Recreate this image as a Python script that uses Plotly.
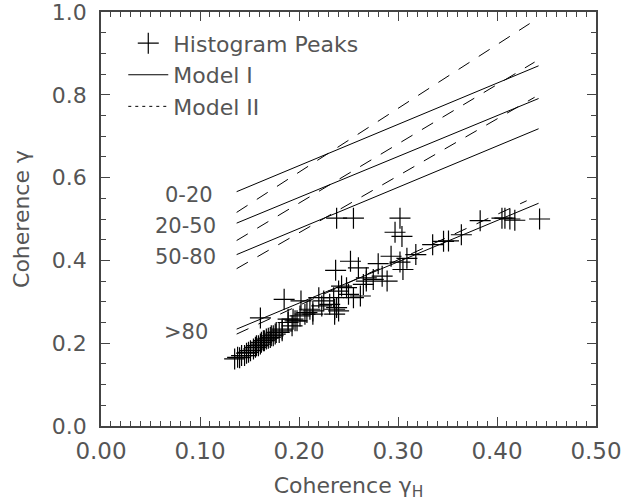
import plotly.graph_objects as go

# Histogram peaks (gamma_H, gamma)
peak_x = [0.135, 0.138, 0.140, 0.142, 0.145, 0.147, 0.149, 0.151, 0.154, 0.156,
          0.157, 0.159, 0.161, 0.162, 0.164, 0.165, 0.167, 0.169, 0.171, 0.172,
          0.174, 0.176, 0.177, 0.180, 0.183, 0.183, 0.161, 0.189, 0.189, 0.193,
          0.194, 0.196, 0.198, 0.201, 0.206, 0.208, 0.211, 0.214, 0.214, 0.220,
          0.223, 0.225, 0.231, 0.236, 0.236, 0.238, 0.240, 0.185, 0.202, 0.235,
          0.240, 0.243, 0.248, 0.250, 0.255, 0.262, 0.265, 0.268, 0.268, 0.275,
          0.280, 0.284, 0.289, 0.237, 0.252, 0.260, 0.293, 0.302, 0.305, 0.309,
          0.318, 0.335, 0.346, 0.351, 0.364, 0.383, 0.405, 0.408, 0.413, 0.418,
          0.443, 0.238, 0.255, 0.302, 0.297, 0.304]
peak_y = [0.162, 0.166, 0.165, 0.170, 0.170, 0.176, 0.178, 0.182, 0.186, 0.190,
          0.194, 0.194, 0.198, 0.202, 0.206, 0.206, 0.210, 0.212, 0.214, 0.218,
          0.218, 0.222, 0.226, 0.226, 0.230, 0.234, 0.261, 0.250, 0.258, 0.242,
          0.258, 0.254, 0.254, 0.266, 0.270, 0.274, 0.282, 0.270, 0.278, 0.310,
          0.290, 0.302, 0.294, 0.270, 0.282, 0.286, 0.278, 0.306, 0.302, 0.310,
          0.326, 0.338, 0.334, 0.318, 0.310, 0.314, 0.342, 0.358, 0.350, 0.354,
          0.392, 0.362, 0.350, 0.376, 0.398, 0.382, 0.410, 0.396, 0.378, 0.405,
          0.414, 0.438, 0.446, 0.447, 0.462, 0.496, 0.502, 0.502, 0.500, 0.497,
          0.500, 0.502, 0.502, 0.502, 0.468, 0.458]

groups = ["0-20", "20-50", "50-80", ">80"]
# Model I (solid) line endpoints
m1_x0 = [0.137, 0.137, 0.137, 0.137]
m1_x1 = [0.442, 0.442, 0.442, 0.442]
m1_y0 = [0.566, 0.490, 0.414, 0.234]
m1_y1 = [0.870, 0.791, 0.718, 0.538]
# Model II (dashed) line endpoints
m2_x0 = [0.137, 0.137, 0.137, 0.137]
m2_x1 = [0.433, 0.438, 0.438, 0.430]
m2_y0 = [0.516, 0.448, 0.380, 0.222]
m2_y1 = [0.972, 0.879, 0.794, 0.544]
# group label anchor (right edge x, centre y)
lab_x = [0.115, 0.118, 0.118, 0.110]
lab_y = [0.559, 0.482, 0.408, 0.226]

x_ticks = [0.0, 0.1, 0.2, 0.3, 0.4, 0.5]
x_tick_labels = ["0.00", "0.10", "0.20", "0.30", "0.40", "0.50"]
y_ticks = [0.0, 0.2, 0.4, 0.6, 0.8, 1.0]
y_tick_labels = ["0.0", "0.2", "0.4", "0.6", "0.8", "1.0"]

FONT = "DejaVu Sans, sans-serif"
TXT = "#555555"

fig = go.Figure()

fig.add_trace(go.Scatter(
    x=peak_x, y=peak_y, mode="markers", name="Histogram Peaks",
    marker=dict(symbol="cross-thin", size=15, line=dict(color="black", width=1.2)),
    showlegend=True))

for i in range(4):
    fig.add_trace(go.Scatter(
        x=[m1_x0[i], m1_x1[i]], y=[m1_y0[i], m1_y1[i]], mode="lines",
        line=dict(color="black", width=1), name="Model I", showlegend=(i == 0)))
for i in range(4):
    fig.add_trace(go.Scatter(
        x=[m2_x0[i], m2_x1[i]], y=[m2_y0[i], m2_y1[i]], mode="lines",
        line=dict(color="black", width=1, dash="13px,11px"), showlegend=False))
# legend-only sample for Model II
fig.add_trace(go.Scatter(
    x=[None], y=[None], mode="lines", name="Model II",
    line=dict(color="black", width=1, dash="3px,4px")))

for i, g in enumerate(groups):
    fig.add_annotation(x=lab_x[i], y=lab_y[i], text=g, showarrow=False,
                       xanchor="right", yanchor="middle",
                       font=dict(family=FONT, size=21, color=TXT))

axis_common = dict(
    showline=True, linecolor="#444444", linewidth=1.5, mirror="ticks",
    ticks="inside", ticklen=9, tickcolor="#444444", tickwidth=1,
    showgrid=False, zeroline=False, ticklabeloverflow="allow", automargin=False,
)

fig.update_xaxes(range=[0, 0.5], tickmode="array", tickvals=x_ticks, ticktext=x_tick_labels,
                 minor=dict(ticks="inside", dtick=0.01, ticklen=5, tickcolor="#444444"),
                 tickfont=dict(family=FONT, size=23, color=TXT),
                 title=dict(text="Coherence γ<sub>H</sub>", standoff=14,
                            font=dict(family=FONT, size=22, color=TXT)),
                 ticklabelstandoff=4, **axis_common)
fig.update_yaxes(range=[0, 1.0], tickmode="array", tickvals=y_ticks, ticktext=y_tick_labels,
                 minor=dict(ticks="inside", dtick=0.05, ticklen=5, tickcolor="#444444"),
                 tickfont=dict(family=FONT, size=22, color=TXT),
                 title=dict(text="Coherence γ", standoff=16,
                            font=dict(family=FONT, size=22, color=TXT)),
                 ticklabelstandoff=8, **axis_common)

fig.update_layout(
    width=633, height=504,
    margin=dict(l=101, r=37, t=12, b=78),
    plot_bgcolor="white", paper_bgcolor="white",
    legend=dict(x=0.045, y=0.975, xanchor="left", yanchor="top",
                bgcolor="rgba(0,0,0,0)", borderwidth=0, itemwidth=40,
                font=dict(family=FONT, size=22, color=TXT), tracegroupgap=0),
)

fig.write_html("out.html")
